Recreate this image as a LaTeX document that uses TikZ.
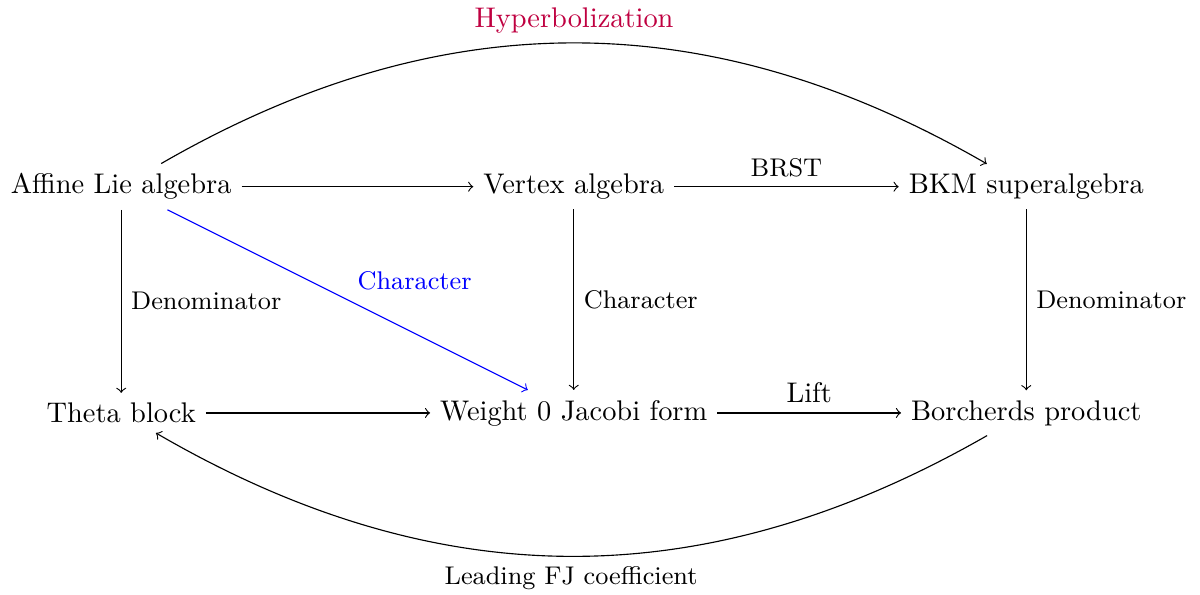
\documentclass[tikz,border=0pt]{standalone}
\usepackage{amsmath , amssymb}
\usepackage{tikz}
\usetikzlibrary{positioning, arrows}

\begin{document}
\begin{tikzpicture}[->, thin, lbl/.style={font=\small}]
	\useasboundingbox (-1.50,-2.25) rectangle (13.35,5.11);
	\node (lie) at (0,2.8)  {Affine Lie algebra};
	\node (voa) at (5.6,2.8)  {Vertex algebra};
	\node (bkm) at (11.2,2.8)  {BKM superalgebra};
	\node (theta) at (0,0)  {Theta block};
	\node (jac) at (5.6,0)  {Weight 0 Jacobi form};
	\node (borch) at (11.2,0)  {Borcherds product};
	
		\draw 	(lie) edge (voa)
				(voa) edge [above] node[lbl]{BRST} (bkm)
				(lie) edge [right] node[lbl]{Denominator} (theta)
				(voa) edge [right] node[lbl]{Character} (jac)
				(bkm) edge [right] node[lbl]{Denominator} (borch)
				(theta) edge (jac)
				(jac) edge [above] node{Lift} (borch)
				(lie) edge [bend left=30, above] node[text=purple]{Hyperbolization} (bkm)
				(borch) edge [bend left=30, below] node[lbl]{Leading FJ coefficient} (theta)
		;
	
	\draw[blue] (lie) -- node[lbl, above right]{Character} (jac);
\end{tikzpicture}
\end{document}
